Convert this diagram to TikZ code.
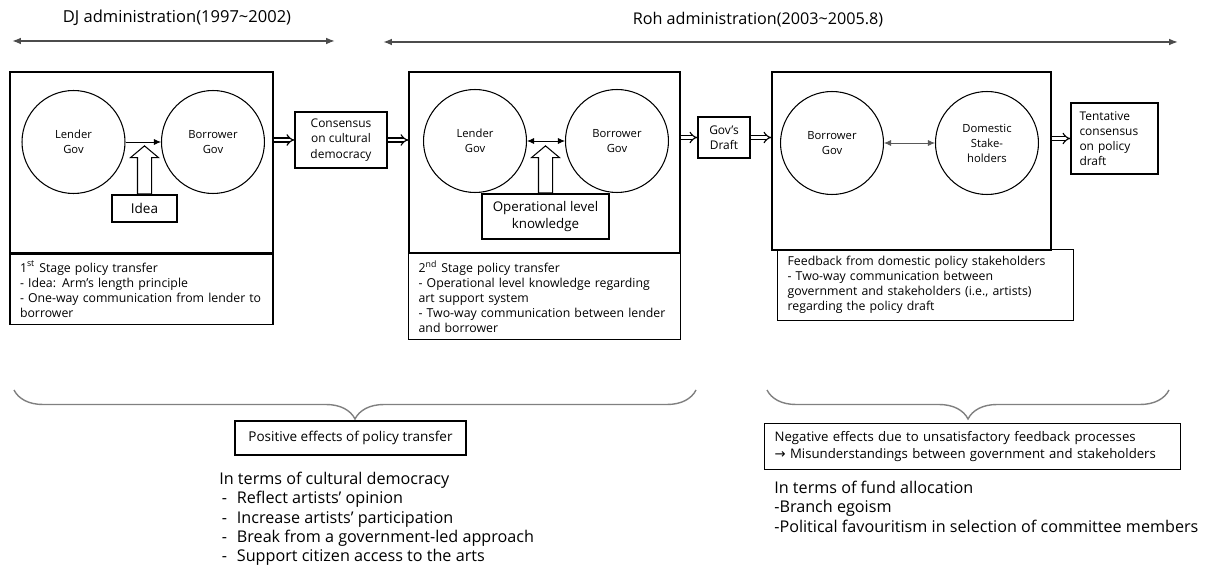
\documentclass[tikz,border=0pt]{standalone}
\usepackage{fontspec}
\setmainfont{Open Sans}
\newfontfamily\arrowfont{DejaVu Sans}
\usepackage{tikz}
\usetikzlibrary{shapes, arrows, arrows.meta, positioning, decorations.pathreplacing}
\tikzstyle{frame} =
        [
                rectangle,
                draw,
                line width = 0.7pt,
                inner sep = 0pt
        ]
\tikzstyle{notebox} =
        [
                rectangle,
                draw,
                line width = 0.7pt,
                anchor = north west,
                align = left,
                inner xsep = 0.2cm,
                inner ysep = 0pt,
                font = \fontsize{7}{8.5}\selectfont
        ]
\tikzstyle{gov} =
        [
                circle,
                draw,
                line width = 0.6pt,
                minimum size = 2.06cm,
                align = center,
                inner sep = 0pt,
                font = \fontsize{6.4}{8.5}\selectfont
        ]
\tikzstyle{block} =
        [
                rectangle,
                draw,
                line width = 0.7pt,
                align = center,
                inner sep = 0pt
        ]
\tikzstyle{fat} =
        [
                single arrow,
                draw,
                line width = 0.6pt,
                rotate = 90,
                anchor = tail,
                inner xsep = 0pt,
                inner ysep = 0.13cm,
                single arrow head extend = 0.14cm,
                single arrow tip angle = 100
        ]
\tikzstyle{list} =
        [
                align = left,
                anchor = north west,
                inner sep = 0pt,
                font = \fontsize{9.2}{10.9}\selectfont
        ]
\tikzstyle{line} =
        [
                draw,
                line width = 0.5pt,
                -{Latex[length = 4pt, width = 3.5pt]}
        ]
\tikzstyle{twoway} =
        [
                draw,
                line width = 0.5pt,
                {Latex[length = 4pt, width = 3.5pt]}-{Latex[length = 4pt, width = 3.5pt]}
        ]
\tikzstyle{dline} =
        [
                draw,
                line width = 0.65pt,
                double,
                double distance = 1.6pt,
                -{Implies}
        ]
\tikzstyle{period} =
        [
                draw,
                gray!60!black,
                line width = 0.9pt,
                {Latex[length = 5pt]}-{Latex[length = 5pt]}
        ]
\tikzstyle{effect} =
        [
                draw,
                gray,
                line width = 0.8pt,
                decorate,
                decoration = {brace, mirror, amplitude = 0.58cm}
        ]
\newcommand{\itm}{\hspace*{1.5pt}\makebox[8.5pt][l]{-}}
\begin{document}
\begin{tikzpicture}[x = 0.02cm, y = -0.02cm, auto]
        \useasboundingbox (0,0) rectangle (1212,567);
        \node [font = \fontsize{9.4}{11}\selectfont] (dj) at (177,18) {DJ administration(1997\textasciitilde 2002)};
        \coordinate (djL) at (12,41);
        \coordinate (djR) at (335,41);
        \node [font = \fontsize{9.2}{11}\selectfont] (roh) at (758,20) {Roh administration(2003\textasciitilde 2005.8)};
        \coordinate (rohL) at (383,42);
        \coordinate (rohR) at (1178,42);
        \path [period] (djL) -- (djR);
        \path [period] (rohL) -- (rohR);

        \node [frame, minimum width = 5.26cm, minimum height = 3.62cm] (stage1) at (141.5,162.5) {};
        \node [gov] (lender1) at (73.5,142) {Lender\\Gov};
        \node [gov, right of = lender1, node distance = 2.79cm] (borrower1) {Borrower\\Gov};
        \node [block, minimum width = 1.3cm, minimum height = 0.54cm, font = \fontsize{7.7}{9}\selectfont] (idea) at (144.5,208.5) {Idea};
        \node [fat, minimum height = 0.96cm] (ideaup) at (idea.north) {};
        \node [notebox, text width = 4.86cm, minimum height = 1.4cm] (note1) at (stage1.south west) {1\textsuperscript{st} Stage policy transfer\\- Idea: Arm’s length principle\\- One-way communication from lender to\\borrower};

        \node [block, minimum width = 1.84cm, minimum height = 1.12cm, font = \fontsize{6.8}{8.8}\selectfont] (consensus) at (341,140) {Consensus\\on cultural\\democracy};

        \node [frame, minimum width = 5.42cm, minimum height = 3.62cm] (stage2) at (544.5,162.5) {};
        \node [gov] (lender2) at (475,141) {Lender\\Gov};
        \node [gov, right of = lender2, node distance = 2.84cm] (borrower2) {Borrower\\Gov};
        \node [block, minimum width = 2.54cm, minimum height = 0.9cm, font = \fontsize{7.6}{9.4}\selectfont] (knowledge) at (545.5,216.5) {Operational level\\knowledge};
        \node [fat, minimum height = 0.94cm] (knowledgeup) at (knowledge.north) {};
        \node [notebox, text width = 5.04cm, minimum height = 1.72cm] (note2) at (408,253) {2\textsuperscript{nd} Stage policy transfer\\- Operational level knowledge regarding\\art support system\\- Two-way communication between lender\\and borrower};

        \node [block, minimum width = 1.04cm, minimum height = 0.82cm, font = \fontsize{6.8}{8.6}\selectfont] (draft) at (724,137.5) {Gov’s\\Draft};

        \node [frame, minimum width = 5.58cm, minimum height = 3.56cm] (stage3) at (911.5,161) {};
        \node [gov] (borrower3) at (832,143) {Borrower\\Gov};
        \node [gov, right of = borrower3, node distance = 3.1cm] (domestic3) {Domestic\\Stake-\\holders};
        \node [notebox, text width = 5.52cm, minimum height = 1.42cm] (note3) at (777,249) {Feedback from domestic policy stakeholders\\- Two-way communication between\\government and stakeholders (i.e., artists)\\regarding the policy draft};

        \node [block, align = left, text width = 1.4cm, minimum width = 1.74cm, minimum height = 1.42cm, font = \fontsize{6.8}{8.6}\selectfont] (tentative) at (1114.5,138.5) {Tentative\\consensus\\on policy\\draft};

        \path [line] (lender1) -- (borrower1);
        \path [twoway] (lender2) -- (borrower2);
        \path [twoway, gray!70!black] (borrower3) -- (domestic3);
        \path [dline] (consensus.west -| stage1.east) -- (consensus.west);
        \path [dline] (consensus.east) -- (consensus.east -| stage2.west);
        \path [dline] (draft.west -| stage2.east) -- (draft.west);
        \path [dline] (draft.east) -- (draft.east -| stage3.west);
        \path [dline] (tentative.west -| stage3.east) -- (tentative.west);

        \coordinate (posL) at (14,390);
        \coordinate (posR) at (696,390);
        \coordinate (negL) at (767,390);
        \coordinate (negR) at (1169,390);
        \path [effect] (posL) -- (posR);
        \path [effect] (negL) -- (negR);
        \node [block, minimum width = 4.62cm, minimum height = 0.68cm, font = \fontsize{7.7}{9}\selectfont] (positive) at (350.5,438) {Positive effects of policy transfer};
        \node [notebox, text width = 7.92cm, minimum height = 0.92cm, font = \fontsize{7.5}{10}\selectfont] (negative) at (764,423) {Negative effects due to unsatisfactory feedback processes\\{\arrowfont →} Misunderstandings between government and stakeholders};
        \node [list] (posnote) at (219,472) {In terms of cultural democracy\\\itm Reflect artists’ opinion\\\itm Increase artists’ participation\\\itm Break from a government-led approach\\\itm Support citizen access to the arts};
        \node [list] (negnote) at (774,481) {In terms of fund allocation\\-Branch egoism\\-Political favouritism in selection of committee members};
\end{tikzpicture}
\end{document}
